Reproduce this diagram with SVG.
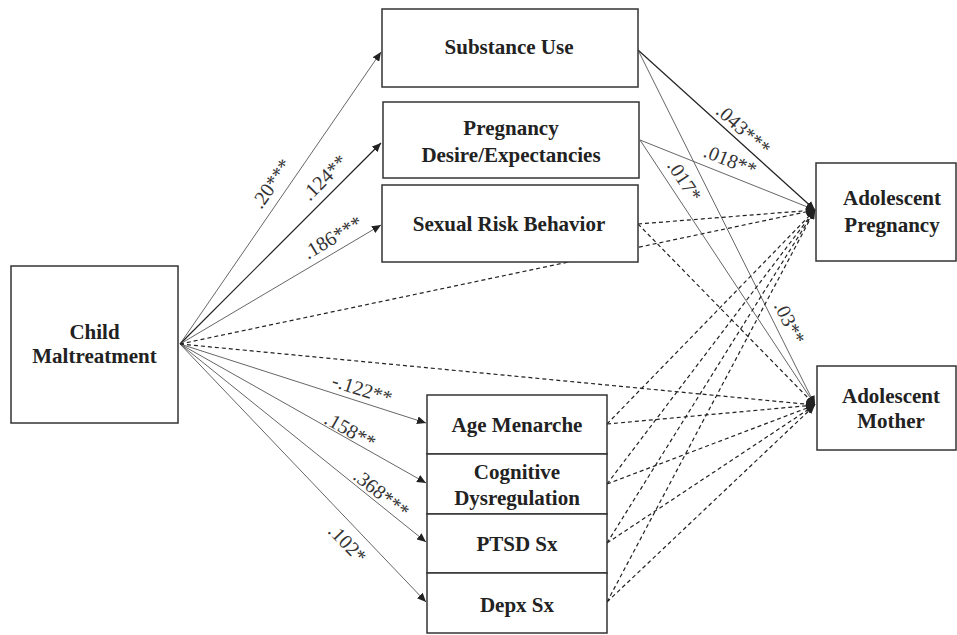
<svg xmlns="http://www.w3.org/2000/svg" width="957" height="635" viewBox="0 0 957 635">
<style>
.box{fill:#fff;stroke:#333;stroke-width:1.5}
.nt{font-family:"Liberation Serif","Times New Roman",serif;font-weight:bold;font-size:21px;fill:#222;text-anchor:middle}
.lb{font-family:"Liberation Serif","Times New Roman",serif;font-size:20px;fill:#333;text-anchor:middle}
.s{stroke:#555;stroke-width:0.9;fill:none}
.sd{stroke:#222;stroke-width:1.2;fill:none}
.d{stroke:#222;stroke-width:1.2;fill:none;stroke-dasharray:4 3}
</style>
<defs>
<marker id="ah" markerUnits="userSpaceOnUse" markerWidth="10" markerHeight="8" refX="9" refY="4" orient="auto">
<path d="M0,0 L9,4 L0,8 z" fill="#222"/>
</marker>
</defs>
<rect width="957" height="635" fill="#fff"/>
<g id="connectors">
<line class="s" x1="180" y1="344" x2="381" y2="52" marker-end="url(#ah)"/>
<line class="sd" x1="180" y1="344" x2="381" y2="143" marker-end="url(#ah)"/>
<line class="s" x1="180" y1="344" x2="381" y2="225" marker-end="url(#ah)"/>
<line class="s" x1="180" y1="344" x2="426" y2="423" marker-end="url(#ah)"/>
<line class="s" x1="180" y1="344" x2="426" y2="483" marker-end="url(#ah)"/>
<line class="s" x1="180" y1="344" x2="426" y2="542" marker-end="url(#ah)"/>
<line class="s" x1="180" y1="344" x2="426" y2="602" marker-end="url(#ah)"/>
<line class="d" x1="180" y1="344" x2="815" y2="210" marker-end="url(#ah)"/>
<line class="d" x1="180" y1="344" x2="815" y2="405" marker-end="url(#ah)"/>
<line class="sd" x1="638" y1="50" x2="815" y2="210" marker-end="url(#ah)"/>
<line class="s" x1="638" y1="50" x2="815" y2="405" marker-end="url(#ah)"/>
<line class="s" x1="640" y1="140" x2="815" y2="210" marker-end="url(#ah)"/>
<line class="s" x1="640" y1="140" x2="815" y2="405" marker-end="url(#ah)"/>
<line class="d" x1="638" y1="224" x2="815" y2="210" marker-end="url(#ah)"/>
<line class="d" x1="638" y1="224" x2="815" y2="405" marker-end="url(#ah)"/>
<line class="d" x1="607" y1="424" x2="815" y2="210" marker-end="url(#ah)"/>
<line class="d" x1="607" y1="424" x2="815" y2="405" marker-end="url(#ah)"/>
<line class="d" x1="607" y1="484" x2="815" y2="210" marker-end="url(#ah)"/>
<line class="d" x1="607" y1="484" x2="815" y2="405" marker-end="url(#ah)"/>
<line class="d" x1="607" y1="543" x2="815" y2="210" marker-end="url(#ah)"/>
<line class="d" x1="607" y1="543" x2="815" y2="405" marker-end="url(#ah)"/>
<line class="d" x1="607" y1="602" x2="815" y2="210" marker-end="url(#ah)"/>
<line class="d" x1="607" y1="602" x2="815" y2="405" marker-end="url(#ah)"/>
<text class="lb" transform="translate(272,184) rotate(-55.5)" dy="6">.20***</text>
<text class="lb" transform="translate(325,178) rotate(-45)" dy="6">.124**</text>
<text class="lb" transform="translate(333,238) rotate(-30.6)" dy="6">.186***</text>
<text class="lb" transform="translate(362,390) rotate(17.7)" dy="6">-.122**</text>
<text class="lb" transform="translate(350,431) rotate(29.5)" dy="6">.158**</text>
<text class="lb" transform="translate(381,494) rotate(38.8)" dy="6">.368***</text>
<text class="lb" transform="translate(347,544) rotate(46.3)" dy="6">.102*</text>
<text class="lb" transform="translate(743,130) rotate(42.1)" dy="6">.043***</text>
<text class="lb" transform="translate(730,161) rotate(21.8)" dy="6">.018**</text>
<text class="lb" transform="translate(684,181) rotate(56.6)" dy="6">.017*</text>
<text class="lb" transform="translate(789,323) rotate(63.5)" dy="6">.03**</text>
</g>
<g id="child">
<rect class="box" x="11" y="266" width="167" height="157"/>
<text class="nt" x="94.5" y="339">Child</text>
<text class="nt" x="94.5" y="363">Maltreatment</text>
</g>
<g id="substance">
<rect class="box" x="382" y="9" width="256" height="78"/>
<text class="nt" x="509" y="54">Substance Use</text>
</g>
<g id="pregdesire">
<rect class="box" x="383" y="102" width="256" height="76"/>
<text class="nt" x="511" y="135">Pregnancy</text>
<text class="nt" x="511" y="162">Desire/Expectancies</text>
</g>
<g id="sexrisk">
<rect class="box" x="382" y="185" width="256" height="77"/>
<text class="nt" x="509" y="231">Sexual Risk Behavior</text>
</g>
<g id="agemenarche">
<rect class="box" x="427" y="395" width="180" height="59"/>
<text class="nt" x="517" y="432">Age Menarche</text>
</g>
<g id="cogdys">
<rect class="box" x="427" y="454" width="180" height="60"/>
<text class="nt" x="517" y="479">Cognitive</text>
<text class="nt" x="517" y="505">Dysregulation</text>
</g>
<g id="ptsd">
<rect class="box" x="427" y="514" width="180" height="59"/>
<text class="nt" x="517" y="551">PTSD Sx</text>
</g>
<g id="depx">
<rect class="box" x="427" y="573" width="180" height="60"/>
<text class="nt" x="517" y="612">Depx Sx</text>
</g>
<g id="adolpreg">
<rect class="box" x="816" y="163" width="140" height="98"/>
<text class="nt" x="892" y="205">Adolescent</text>
<text class="nt" x="892" y="232">Pregnancy</text>
</g>
<g id="adolmother">
<rect class="box" x="817" y="366" width="139" height="84"/>
<text class="nt" x="891" y="403">Adolescent</text>
<text class="nt" x="891" y="428">Mother</text>
</g>
</svg>
